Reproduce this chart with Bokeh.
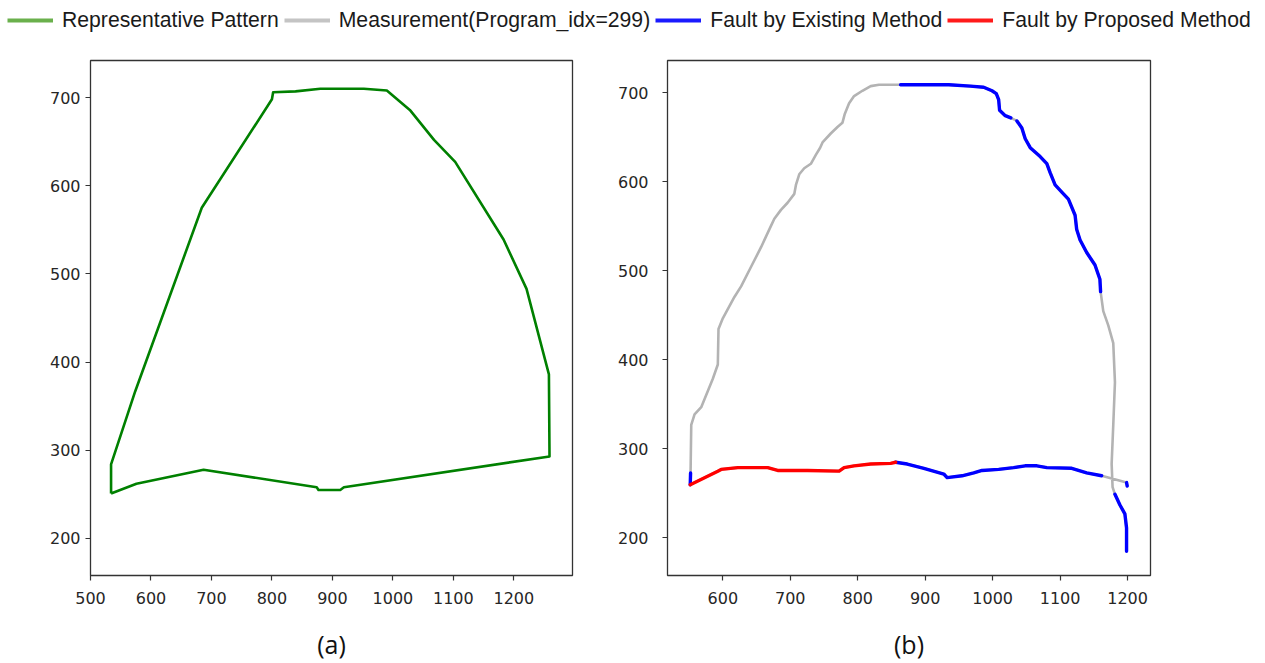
from bokeh.plotting import figure
from bokeh.layouts import column, row
from bokeh.models import Legend, LegendItem, FixedTicker, Range1d
from bokeh.embed import file_html
from bokeh.resources import INLINE

# ---------------- data ----------------
legend_labels = ["Representative Pattern", "Measurement(Program_idx=299)",
                 "Fault by Existing Method", "Fault by Proposed Method"]

# (a) representative pattern (closed outline)
rep_x = [534, 534, 574, 684, 800, 802, 839, 880, 952, 990, 1028, 1068, 1103,
         1183, 1221, 1258, 1259, 919, 913, 877, 874, 687, 576, 534]
rep_y = [251, 284, 367, 575, 698, 706, 707, 710, 710, 708, 686, 652, 627,
         539, 483, 386, 293, 258, 255, 255, 258, 278, 262, 251]

# (b) measurement path; seg_flag[i] = status of the segment from point i to i+1
# "N" normal, "E" fault by existing method, "P" fault by proposed method
meas_x = [1198.5, 1198.5, 1196, 1188.7, 1181.3, 1177.8, 1176.4, 1178.8, 1181.3, 1178.8,
          1171.4, 1164, 1160, 1159, 1151.7, 1139.4, 1129.6, 1124.6, 1122.2, 1112.3,
          1102.5, 1092.6, 1085.2, 1080.3, 1070.4, 1055.7, 1048.3, 1043.3, 1036, 1027,
          1018.7, 1010.3, 1008.9, 1005.4, 999, 986.7, 967, 935, 903, 863.5,
          831.5, 819.2, 806.9, 794.6, 787.2, 780.8, 777.3, 770, 760, 747.8,
          744.3, 737.9, 730.5, 720.7, 713.3, 708.4, 706, 696, 686.2, 676.4,
          671.4, 656.7, 641.9, 627.1, 617.2, 600, 593.6, 592.6, 585.2, 568,
          558.1, 553.2, 552.2, 551.7, 592.6, 597.5, 622.2, 666.5, 681.3, 725.6,
          772.4, 779.8, 794.6, 819.2, 848.8, 856.2, 873.4, 898, 927.6, 932.5,
          954.7, 971.9, 984.2, 1008.9, 1031, 1048.3, 1065.5, 1080.3, 1117.2, 1139.4,
          1161.6, 1198.5, 1199.5]
meas_y = [184.8, 210.8, 226.8, 236.7, 248.7, 256.7, 282.7, 326.6, 374.5, 418.5,
          438.4, 454.4, 476.4, 490.3, 506.3, 520.3, 534.3, 546.2, 562.2, 580.2,
          588.2, 596.2, 610.1, 620.1, 628.1, 638.1, 648.1, 660.1, 668.1, 671.5,
          674, 680, 692, 698.8, 702, 706, 707.2, 708.8, 708.8, 708.8,
          708.8, 707.2, 702, 696, 688, 676, 666, 661.3, 654, 644,
          638, 630, 620, 615, 608.2, 596.2, 586.2, 576.2, 568.2, 558.2,
          550.2, 526.3, 504.3, 482.3, 470.4, 446.4, 434.4, 394.5, 378.5, 346.6,
          338.6, 326.6, 272.7, 259.5, 274.7, 276.7, 278.7, 278.7, 275.5, 275.5,
          274.7, 278.7, 280.7, 282.7, 283.5, 284.7, 282.7, 277.9, 271.5, 267.5,
          269.5, 272.7, 275.5, 276.7, 278.7, 280.7, 280.7, 278.7, 277.9, 272.7,
          269.5, 261.9, 257.9]
seg_flag = (["E"] * 4 + ["N"] * 8 + ["E"] * 16 + ["N"] + ["E"] * 10 + ["N"] * 33
            + ["E"] + ["P"] * 12 + ["E"] * 15 + ["N"] + ["E"] + ["E"])

xticks_a = [500, 600, 700, 800, 900, 1000, 1100, 1200]
xticks_b = [600, 700, 800, 900, 1000, 1100, 1200]
yticks = [200, 300, 400, 500, 600, 700]
panel_labels = ["(a)", "(b)"]

# ---------------- styles ----------------
GREEN = "#008000"
GRAY = "#b3b3b3"
BLUE = "#0000ff"
RED = "#ff0000"
legend_colors = ["#6ab04c", "#c4c4c4", "#1a1aff", "#ff1a1a"]
NAN = float("nan")


def runs(flag):
    xs, ys = [], []
    cx = cy = None
    for i in range(len(meas_x) - 1):
        if seg_flag[i] == flag:
            if cx is None:
                cx, cy = [meas_x[i]], [meas_y[i]]
            cx.append(meas_x[i + 1])
            cy.append(meas_y[i + 1])
        elif cx is not None:
            xs.append(cx); ys.append(cy); cx = cy = None
    if cx is not None:
        xs.append(cx); ys.append(cy)
    return xs, ys


def style(p, xt, label, ystandoff):
    p.xaxis.ticker = FixedTicker(ticks=xt)
    p.yaxis.ticker = FixedTicker(ticks=yticks)
    for ax in p.axis:
        ax.axis_line_color = None
        ax.major_tick_line_color = "#333333"
        ax.major_tick_line_width = 1.2
        ax.major_tick_out = 5
        ax.major_tick_in = 0
        ax.minor_tick_line_color = None
        ax.major_label_text_font = "DejaVu Sans"
        ax.major_label_text_font_size = "16px"
        ax.major_label_text_color = "#262626"
    p.xaxis.major_label_standoff = 11
    p.yaxis.major_label_standoff = ystandoff
    p.xaxis.axis_label = label
    p.xaxis.axis_label_text_font = "Open Sans"
    p.xaxis.axis_label_text_font_style = "normal"
    p.xaxis.axis_label_text_font_size = "25px"
    p.xaxis.axis_label_text_color = "#111111"
    p.xaxis.axis_label_standoff = 20
    p.grid.visible = False
    p.outline_line_color = "#333333"
    p.outline_line_width = 1.3
    p.background_fill_color = "white"


# ---------------- legend strip ----------------
top = figure(width=1262, height=48, toolbar_location=None, output_backend="svg",
             x_range=Range1d(0, 1), y_range=Range1d(0, 1), min_border=0,
             x_axis_location=None, y_axis_location=None, outline_line_color=None)
top.grid.visible = False
items = []
for lab, col in zip(legend_labels, legend_colors):
    r = top.line(x=[NAN], y=[NAN], line_color=col, line_width=4)
    items.append(LegendItem(label=lab, renderers=[r]))
leg = Legend(items=items, orientation="horizontal", location=(7, 16),
             glyph_width=46, glyph_height=22, label_standoff=9, spacing=5,
             padding=0, margin=0, border_line_color=None, background_fill_alpha=0,
             label_text_font="Liberation Sans", label_text_font_size="21.2px",
             label_text_color="#1a1a1a", label_height=22)
top.add_layout(leg)

# ---------------- (a) ----------------
pa = figure(width=608, height=615, toolbar_location=None, output_backend="svg",
            x_range=Range1d(500, 1297), y_range=Range1d(158, 742),
            min_border_left=90, min_border_right=36, min_border_top=12,
            min_border_bottom=86)
pa.line(rep_x, rep_y, line_color=GREEN, line_width=2.6, line_join="round")
style(pa, xticks_a, panel_labels[0], 5)

# ---------------- (b) ----------------
pb = figure(width=641, height=615, toolbar_location=None, output_backend="svg",
            x_range=Range1d(518, 1234), y_range=Range1d(157.5, 736),
            min_border_left=59, min_border_right=99, min_border_top=12,
            min_border_bottom=86)
pb.line(meas_x, meas_y, line_color=GRAY, line_width=2.6, line_join="round")
ex, ey = runs("E")
pb.multi_line(ex, ey, line_color=BLUE, line_width=3.4, line_join="round", line_cap="round")
px_, py_ = runs("P")
pb.multi_line(px_, py_, line_color=RED, line_width=3.4, line_join="round", line_cap="round")
style(pb, xticks_b, panel_labels[1], 14)

layout = column(top, row(pa, pb))
open("out.html", "w").write(file_html(layout, INLINE))
